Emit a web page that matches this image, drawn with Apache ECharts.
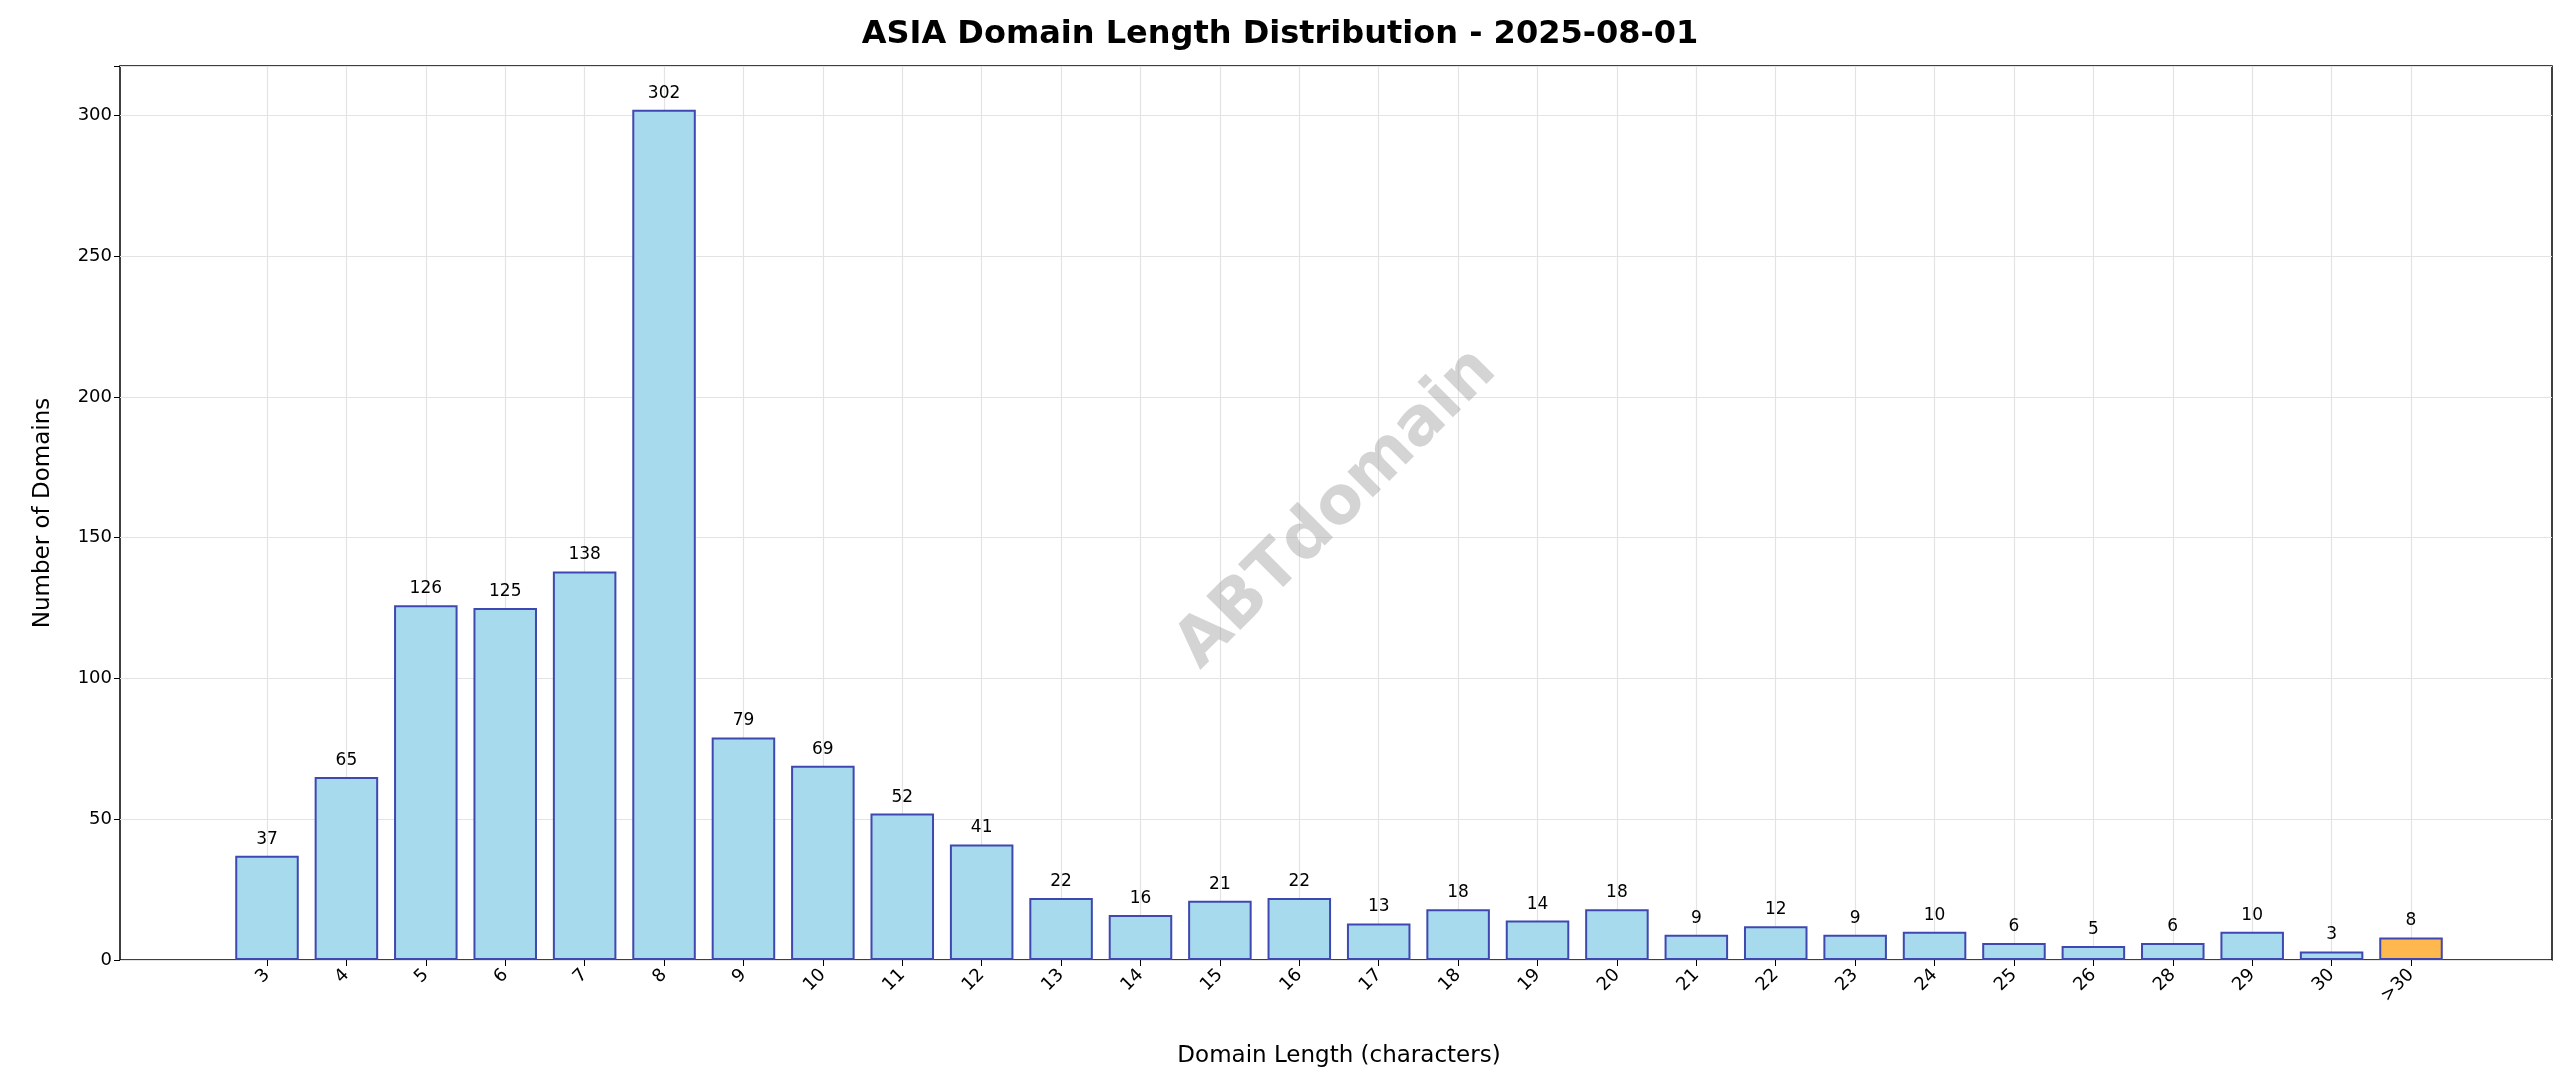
<!DOCTYPE html>
<html><head><meta charset="utf-8">
<script src="https://cdn.jsdelivr.net/npm/echarts@6/dist/echarts.min.js"></script>
<style>html,body{margin:0;background:#fff}#c{width:2560px;height:1087px}</style>
</head><body><div id="c"></div>
<script>
const categories = ['3','4','5','6','7','8','9','10','11','12','13','14','15','16','17','18','19','20','21','22','23','24','25','26','28','29','30','>30'];
const counts = [37,65,126,125,138,302,79,69,52,41,22,16,21,22,13,18,14,18,9,12,9,10,6,5,6,10,3,8];
const yTicks = [0,50,100,150,200,250,300];
const chart = echarts.init(document.getElementById('c'));
const font = 'DejaVu Sans';
const gTop = 66, gBottom = 127;
const n = categories.length;
const slot = (2411 - 267) / (n - 1);
const gl = 267 - slot / 2, gr = 2560 - (2411 + slot / 2);
chart.setOption({
  animation: false,
  textStyle: {fontFamily: font},
  title: {text: 'ASIA Domain Length Distribution - 2025-08-01', left: 'center', top: 14,
    textStyle: {fontSize: 32, fontWeight: 'bold', color: '#000', fontFamily: font}},
  grid: [
    {left: 120, right: 8, top: gTop, bottom: gBottom, show: true, borderColor: '#000', borderWidth: 1.5},
    {left: gl, right: gr, top: gTop, bottom: gBottom}
  ],
  xAxis: [
    {gridIndex: 0, type: 'value', min: 0, max: 1, show: false},
    {gridIndex: 1, type: 'category', data: categories,
      axisLine: {show: false}, axisTick: {show: true, alignWithLabel: true, length: 6, lineStyle: {color: '#000'}},
      axisLabel: {rotate: 45, fontSize: 18, color: '#000', margin: 12, interval: 0},
      name: 'Domain Length (characters)', nameLocation: 'middle', nameGap: 85,
      nameTextStyle: {fontSize: 23, color: '#000'}}
  ],
  yAxis: [
    {gridIndex: 0, type: 'value', min: 0, max: 317.5, interval: 50,
      axisLine: {show: false}, axisTick: {show: true, length: 6, lineStyle: {color: '#000'}},
      axisLabel: {fontSize: 18, color: '#000', formatter: v => yTicks.includes(v) ? String(v) : ''},
      splitLine: {lineStyle: {color: '#e3e3e3', width: 1.2}},
      name: 'Number of Domains', nameLocation: 'middle', nameGap: 65,
      nameTextStyle: {fontSize: 23, color: '#000'}},
    {gridIndex: 1, type: 'value', min: 0, max: 317.5, show: false}
  ],
  graphic: [{type: 'text', x: 1337, y: 509, rotation: Math.PI / 4,
    style: {text: 'ABTdomain', fontSize: 66, fontWeight: 'bold', fill: 'rgba(160,160,160,0.45)', fontFamily: font,
      align: 'center', verticalAlign: 'middle'}, silent: true, z: 100}],
  series: [{
    type: 'bar', xAxisIndex: 1, yAxisIndex: 1, barWidth: '80%',
    data: counts.map((v, i) => ({value: v, itemStyle: {color: i === n - 1 ? '#ffb84d' : '#a8daee'}})),
    itemStyle: {borderColor: '#3f48b0', borderWidth: 2},
    label: {show: true, position: 'top', fontSize: 17, color: '#000', distance: 8},
    markLine: {silent: true, symbol: 'none', label: {show: false}, z: 0,
      lineStyle: {color: '#e3e3e3', width: 1.2, type: 'solid'},
      data: categories.map(c => ({xAxis: c}))},
    z: 3
  }]
});
</script></body></html>
